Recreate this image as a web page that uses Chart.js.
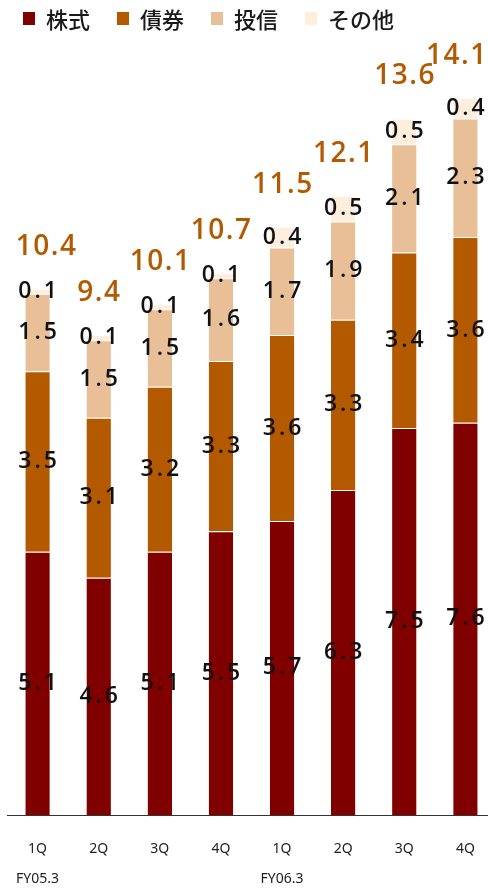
<!DOCTYPE html>
<html>
<head>
<meta charset="utf-8">
<script src="https://cdn.jsdelivr.net/npm/chart.js@4.4.1/dist/chart.umd.min.js"></script>
<style>
  html, body { margin: 0; padding: 0; background: #fff; overflow: hidden; }
  #wrap { width: 497px; height: 888px; }
</style>
</head>
<body>
<div id="wrap"><canvas id="myChart"></canvas></div>
<script>
const quarters = ["1Q", "2Q", "3Q", "4Q", "1Q", "2Q", "3Q", "4Q"];
const fiscalYears = ["FY05.3", "", "", "", "FY06.3", "", "", ""];

const seriesNames = ["株式", "債券", "投信", "その他"];
const stocks = [5.1, 4.6, 5.1, 5.5, 5.7, 6.3, 7.5, 7.6];
const bonds = [3.5, 3.1, 3.2, 3.3, 3.6, 3.3, 3.4, 3.6];
const trusts = [1.5, 1.5, 1.5, 1.6, 1.7, 1.9, 2.1, 2.3];
const others = [0.1, 0.1, 0.1, 0.1, 0.4, 0.5, 0.5, 0.4];
const totals = [10.4, 9.4, 10.1, 10.7, 11.5, 12.1, 13.6, 14.1];

const colors = ["#800000", "#b35900", "#e8bf96", "#fdeedd"];
const labelColor = "#b35900";

// value labels inside segments + totals above bars
const valueLabels = {
  id: "valueLabels",
  afterDatasetsDraw(chart) {
    const ctx = chart.ctx;
    ctx.save();
    ctx.textAlign = "center";
    ctx.textBaseline = "middle";
    ctx.fillStyle = "#111";
    ctx.font = "600 23px 'Open Sans'";
    ctx.letterSpacing = "3px";
    chart.data.datasets.forEach((ds, di) => {
      chart.getDatasetMeta(di).data.forEach((bar, i) => {
        const c = bar.getCenterPoint();
        ctx.fillText(ds.data[i].toFixed(1), c.x + 1.5, c.y);
      });
    });

    const last = chart.getDatasetMeta(chart.data.datasets.length - 1).data;
    ctx.fillStyle = labelColor;
    ctx.font = "600 28px 'Open Sans'";
    ctx.letterSpacing = "1.5px";
    last.forEach((bar, i) => {
      const txt = totals[i].toFixed(1);
      const w = ctx.measureText(txt).width;
      let x = Math.min(Math.max(bar.x, 15 + w / 2), 487 - w / 2);
      ctx.fillText(txt, x + 0.75, bar.y - 42);
    });
    ctx.restore();
  }
};

// simple legend across the top
const topLegend = {
  id: "topLegend",
  afterDraw(chart) {
    const ctx = chart.ctx;
    ctx.save();
    ctx.font = "500 22px 'Noto Sans CJK JP'";
    ctx.textBaseline = "middle";
    ctx.textAlign = "left";
    let x = 23;
    const y = 19;
    seriesNames.forEach((name, i) => {
      ctx.fillStyle = colors[i];
      ctx.fillRect(x, y - 7, 12, 13);
      ctx.fillStyle = "#1a1a1a";
      ctx.fillText(name, x + 23, y + 1);
      x += 23 + ctx.measureText(name).width + 27;
    });
    ctx.restore();
  }
};

const seriesData = [stocks, bonds, trusts, others];

new Chart("myChart", {
  type: "bar",
  data: {
    labels: quarters.map((q, i) => [q, fiscalYears[i]]),
    datasets: seriesData.map((d, i) => ({
      label: seriesNames[i],
      data: d,
      backgroundColor: colors[i],
      borderColor: "#ffffff",
      borderWidth: { top: 1, left: 0, right: 0, bottom: 0 },
      borderSkipped: false,
      categoryPercentage: 1,
      barPercentage: 0.4
    }))
  },
  options: {
    responsive: true,
    maintainAspectRatio: false,
    animation: false,
    layout: { padding: { top: 41, left: 7, right: 1, bottom: 0 } },
    plugins: {
      legend: { display: false },
      tooltip: { enabled: false }
    },
    scales: {
      x: {
        stacked: true,
        grid: { display: false, drawTicks: false },
        border: { display: true, color: "#333", width: 1 },
        ticks: {
          color: "#222",
          padding: 19,
          font: { family: "'Noto Sans'", size: 14, lineHeight: "30px" }
        },
        afterFit(scale) {
          scale.height = 73;
          scale.paddingLeft = 0;
          scale.paddingRight = 0;
        }
      },
      y: {
        stacked: true,
        display: false,
        min: 0,
        max: 15
      }
    }
  },
  plugins: [valueLabels, topLegend]
});
</script>
</body>
</html>
